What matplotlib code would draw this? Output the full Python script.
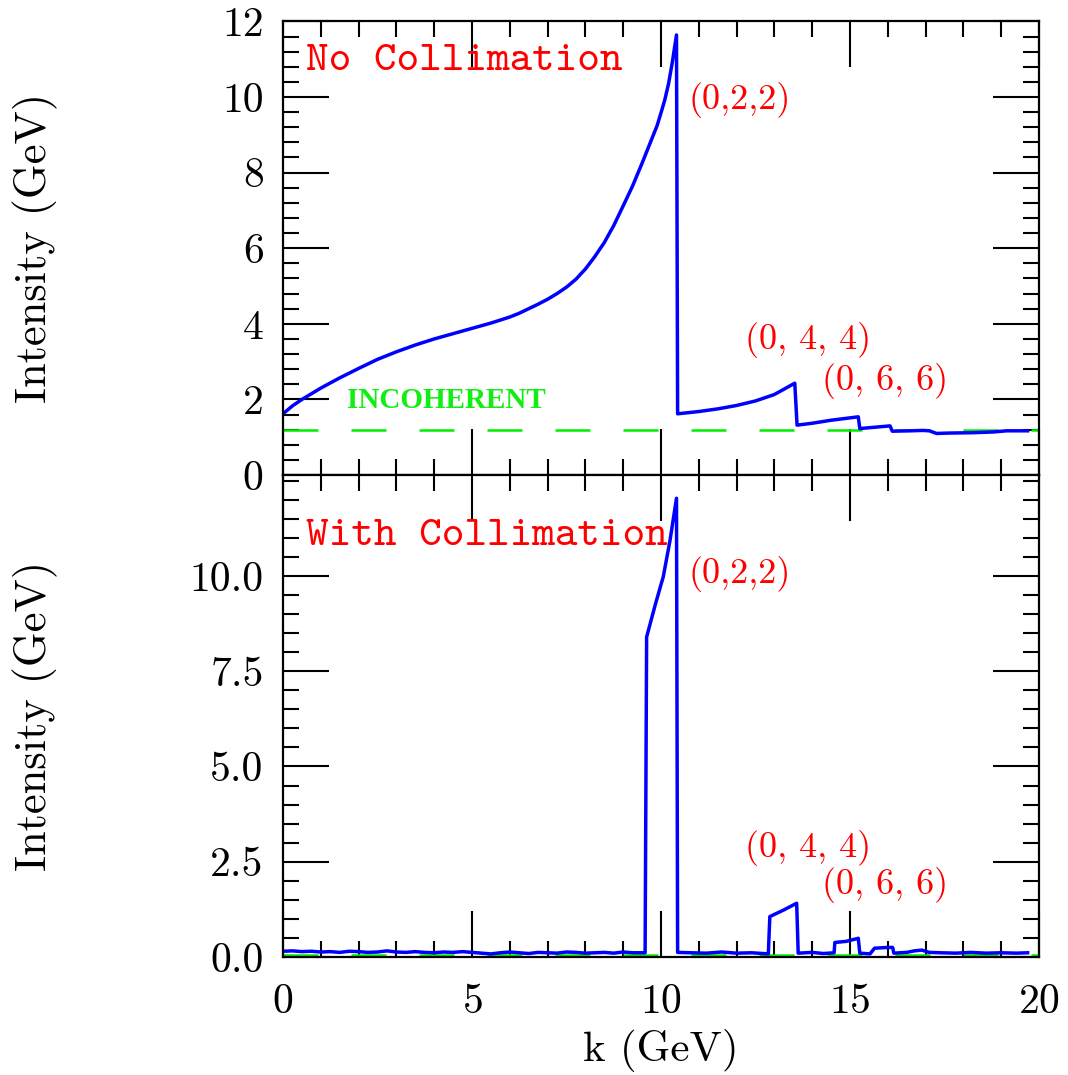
import matplotlib
matplotlib.use("Agg")
import matplotlib.pyplot as plt
from matplotlib.ticker import MultipleLocator, FixedLocator, FormatStrFormatter

plt.rcParams['axes.formatter.use_mathtext'] = True

# top panel: no collimation (k in GeV, intensity in GeV)
k_top = [0.0, 0.25, 0.5, 1.0, 1.5, 2.0, 2.5, 3.0, 3.5, 4.0, 4.5, 5.0, 5.5,
         6.0, 6.25, 6.5, 6.75, 7.0, 7.25, 7.5, 7.75, 8.0, 8.25, 8.5, 8.75,
         9.0, 9.25, 9.5, 9.7, 9.9, 10.0, 10.1, 10.2, 10.3, 10.41, 10.44,
         11.0, 11.5, 12.0, 12.5, 13.0, 13.54, 13.6, 14.0, 14.5, 15.22, 15.26,
         15.6, 16.06, 16.12, 16.6, 16.93, 17.1, 17.29, 17.6, 18.25, 18.8,
         19.14, 19.7]
i_top = [1.62, 1.83, 2.0, 2.3, 2.57, 2.82, 3.06, 3.26, 3.44, 3.6, 3.74, 3.88,
         4.02, 4.18, 4.28, 4.4, 4.52, 4.65, 4.8, 4.97, 5.18, 5.45, 5.78, 6.15,
         6.6, 7.12, 7.65, 8.25, 8.75, 9.25, 9.58, 9.92, 10.35, 10.92, 11.64,
         1.62, 1.68, 1.75, 1.84, 1.96, 2.13, 2.43, 1.32, 1.37, 1.45, 1.54,
         1.23, 1.26, 1.30, 1.16, 1.17, 1.18, 1.17, 1.10, 1.11, 1.12, 1.14,
         1.17, 1.17]

# bottom panel: with collimation
k_bot = [0.0, 0.25, 0.5, 0.75, 1.0, 1.25, 1.5, 1.75, 2.0, 2.25, 2.5, 2.75,
         3.0, 3.25, 3.5, 3.75, 4.0, 4.25, 4.5, 4.75, 5.0, 5.25, 5.5, 5.75,
         6.0, 6.25, 6.5, 6.75, 7.0, 7.25, 7.5, 7.75, 8.0, 8.25, 8.5, 8.75,
         9.0, 9.25, 9.58, 9.62, 9.85, 10.06, 10.24, 10.41, 10.44, 10.8, 11.2,
         11.6, 12.0, 12.4, 12.84, 12.88, 13.24, 13.59, 13.63, 14.0, 14.3,
         14.58, 14.6, 14.9, 15.22, 15.26, 15.53, 15.65, 16.0, 16.13, 16.16,
         16.5, 16.7, 16.9, 17.1, 17.4, 17.8, 18.2, 18.6, 19.0, 19.4, 19.7]
i_bot = [0.15, 0.16, 0.14, 0.15, 0.13, 0.14, 0.12, 0.15, 0.14, 0.12, 0.13,
         0.16, 0.13, 0.12, 0.14, 0.12, 0.11, 0.13, 0.12, 0.14, 0.12, 0.10,
         0.08, 0.11, 0.13, 0.11, 0.09, 0.12, 0.11, 0.10, 0.13, 0.12, 0.10,
         0.11, 0.12, 0.10, 0.13, 0.11, 0.11, 8.4, 9.25, 9.98, 10.94, 12.04,
         0.12, 0.11, 0.10, 0.13, 0.10, 0.11, 0.08, 1.06, 1.23, 1.41, 0.10,
         0.12, 0.09, 0.11, 0.38, 0.41, 0.49, 0.10, 0.08, 0.23, 0.25, 0.25,
         0.10, 0.12, 0.16, 0.18, 0.12, 0.11, 0.10, 0.12, 0.10, 0.11, 0.10,
         0.11]

incoherent_top = 1.19
incoherent_bot = 0.05

fig = plt.figure(figsize=(10.68, 10.75), dpi=100)
ax1 = fig.add_axes([0.265, 0.5581, 0.7078, 0.422])
ax2 = fig.add_axes([0.265, 0.1098, 0.7078, 0.4483])

dash = (0, (14, 13.2))
for ax, k, y, inc in [(ax1, k_top, i_top, incoherent_top),
                      (ax2, k_bot, i_bot, incoherent_bot)]:
    ax.plot([0, 20], [inc, inc], color='#00ee00', lw=1.8, linestyle=dash)
    ax.plot(k, y, color='#0000ff', lw=2.5, solid_joinstyle='round')
    ax.set_xlim(0, 20)
    ax.xaxis.set_major_locator(MultipleLocator(5))
    ax.xaxis.set_minor_locator(MultipleLocator(1))
    ax.tick_params(which='both', direction='in', top=True, right=True,
                   width=1.5, labelsize=30, pad=14)
    ax.tick_params(which='major', length=33)
    ax.tick_params(which='minor', length=11.5)
    for s in ax.spines.values():
        s.set_linewidth(1.6)

ax1.set_ylim(0, 12)
ax1.yaxis.set_major_locator(MultipleLocator(2))
ax1.yaxis.set_minor_locator(MultipleLocator(0.4))
ax1.yaxis.set_major_formatter(FormatStrFormatter('%d'))
ax1.tick_params(axis='x', labelbottom=False)

ax2.set_ylim(0, 12.65)
ax2.yaxis.set_major_locator(FixedLocator([0, 2.5, 5, 7.5, 10]))
ax2.yaxis.set_minor_locator(MultipleLocator(0.5))
ax2.yaxis.set_major_formatter(FormatStrFormatter('%.1f'))
ax2.tick_params(axis='x', pad=19)

for ax in (ax1, ax2):
    for lab in ax.get_xticklabels() + ax.get_yticklabels():
        lab.set_family('cmr10')

ax2.set_xlabel('k (GeV)', family='cmr10', fontsize=31, labelpad=6)
fig.text(35 / 1068, 1 - 248 / 1075, 'Intensity (GeV)', family='cmr10',
         fontsize=32, rotation=90, ha='center', va='center')
fig.text(35 / 1068, 1 - 716 / 1075, 'Intensity (GeV)', family='cmr10',
         fontsize=32, rotation=90, ha='center', va='center')

red = '#ff0000'
ax1.text(0.61, 10.93, 'No Collimation', family='cmtt10', fontsize=31,
         color=red, va='center')
ax2.text(0.61, 11.02, 'With Collimation', family='cmtt10', fontsize=31,
         color=red, va='center')
ax1.text(1.69, 1.96, 'INCOHERENT', family='Liberation Serif', weight='bold',
         fontsize=21, color='#11ee11', va='center')
for ax, ys in [(ax1, (9.92, 3.57, 2.49)), (ax2, (10.05, 2.86, 1.89))]:
    ax.text(10.74, ys[0], '(0,2,2)', family='cmr10', fontsize=26,
            color=red, va='center')
    ax.text(12.22, ys[1], '(0, 4, 4)', family='cmr10', fontsize=26,
            color=red, va='center')
    ax.text(14.26, ys[2], '(0, 6, 6)', family='cmr10', fontsize=26,
            color=red, va='center')

fig.savefig('out.png', dpi=100)
